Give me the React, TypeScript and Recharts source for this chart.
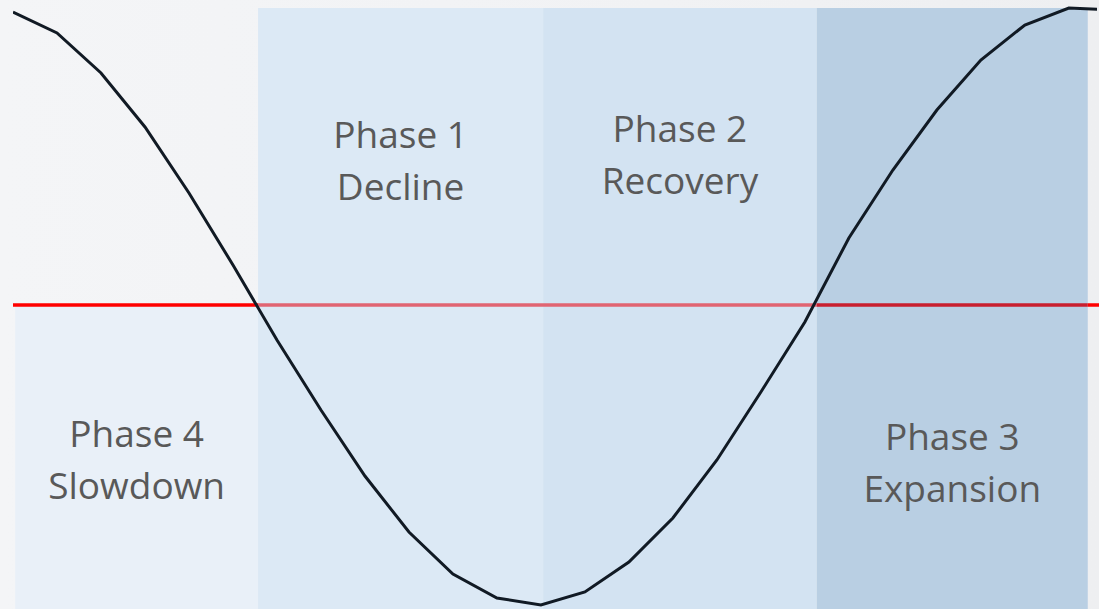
import { LineChart, Line, XAxis, YAxis, ReferenceArea, ReferenceLine } from "recharts";

// cycle curve, one point per step (level relative to the trend line)
const steps = [0, 1, 2, 3, 4, 5, 6, 7, 8, 9, 10, 11, 12, 13, 14, 15, 16, 17, 18, 19, 20, 21, 22, 23, 24, 25];
const levels = [293, 272, 232, 178, 112, 40, -35, -105, -171, -227, -269, -293, -300, -287, -257, -213, -155, -87, -17, 67, 135, 195, 245, 280, 297, 295];

// phases: name, label, x range, top/bottom level
const phaseNames = ["Phase 4", "Phase 1", "Phase 2", "Phase 3"];
const phaseLabels = ["Slowdown", "Decline", "Recovery", "Expansion"];
const phaseStart = [0.05, 5.57, 12.05, 18.27];
const phaseEnd = [5.57, 12.05, 18.27, 24.43];
const phaseTop = [0, 297, 297, 297];
const phaseBottom = [-304, -304, -304, -304];

const FILLS = ["#e9f0f8", "#dce9f5", "#d3e3f2", "#b9cfe3"];
const TEXT_POS = [0.51, 0.255, 0.245, 0.757];

// trend line pieces (x ranges) and the tint they take under each phase
const trendStart = [0, 5.57, 18.27, 24.43];
const trendEnd = [5.57, 18.27, 24.43, 24.7];
const trendColors = ["#ff0000", "#e16472", "#c91f2f", "#ff0000"];

const data = steps.map((s, i) => ({ step: s, level: levels[i] }));

function PhaseLabel(props: any) {
  const { viewBox, lines, pos } = props;
  const cx = viewBox.x + viewBox.width / 2;
  const cy = viewBox.y + viewBox.height * pos;
  return (
    <text
      x={cx}
      y={cy}
      textAnchor="middle"
      fill="#595959"
      fontSize={37}
      fontFamily="'Open Sans', sans-serif"
    >
      <tspan x={cx} dy={-13}>{lines[0]}</tspan>
      <tspan x={cx} dy={52}>{lines[1]}</tspan>
    </text>
  );
}

export default function App() {
  return (
    <div
      style={{
        position: "fixed",
        left: 0,
        top: 0,
        width: 1099,
        height: 609,
        background: "linear-gradient(90deg, #f4f5f7 0%, #f1f2f4 60%, #eeeff1 100%)",
      }}
    >
      <LineChart width={1099} height={609} data={data} margin={{ top: 0, right: 2, left: 13, bottom: 0 }}>
        <XAxis dataKey="step" type="number" domain={[0, 24.64]} allowDataOverflow hide />
        <YAxis type="number" domain={[-304, 305]} allowDataOverflow hide />
        {phaseNames.map((name, i) => (
          <ReferenceArea
            key={name}
            x1={phaseStart[i]}
            x2={phaseEnd[i]}
            y1={phaseBottom[i]}
            y2={phaseTop[i]}
            fill={FILLS[i]}
            fillOpacity={1}
            stroke="none"
            ifOverflow="visible"
            label={<PhaseLabel lines={[name, phaseLabels[i]]} pos={TEXT_POS[i]} />}
          />
        ))}
        {trendStart.map((x, i) => (
          <ReferenceLine
            key={i}
            segment={[{ x, y: 0 }, { x: trendEnd[i], y: 0 }]}
            stroke={trendColors[i]}
            strokeWidth={3.5}
            ifOverflow="visible"
          />
        ))}
        <Line
          type="linear"
          dataKey="level"
          stroke="#111a24"
          strokeWidth={3}
          dot={false}
          isAnimationActive={false}
        />
      </LineChart>
    </div>
  );
}
